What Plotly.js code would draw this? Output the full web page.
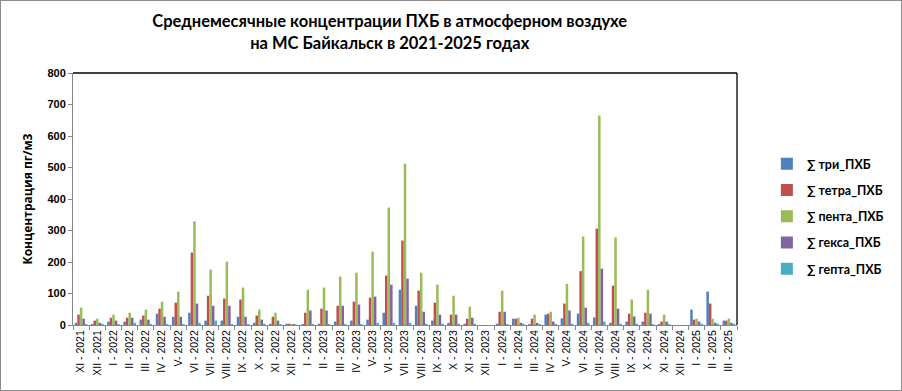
<!DOCTYPE html>
<html>
<head>
<meta charset="utf-8">
<script src="https://cdn.plot.ly/plotly-3.0.1.min.js"></script>
<style>
html,body{margin:0;padding:0;background:#fff;}
#chart{width:900px;height:389px;border:1px solid #8c8c8c;}
</style>
</head>
<body>
<div id="chart"></div>
<script>
const categories = [
  "XI - 2021","XII - 2021","I - 2022","II - 2022","III - 2022","IV - 2022","V- 2022","VI - 2022","VII - 2022","VIII - 2022","IX - 2022","X - 2022","XI - 2022","XII - 2022",
  "I - 2023","II - 2023","III - 2023","IV - 2023","V- 2023","VI - 2023","VII - 2023","VIII - 2023","IX - 2023","X - 2023","XI - 2023","XII - 2023",
  "I - 2024","II - 2024","III - 2024","IV - 2024","V- 2024","VI - 2024","VII - 2024","VIII - 2024","IX - 2024","X - 2024","XI - 2024","XII - 2024",
  "I - 2025","II - 2025","III - 2025"
];
const tri   = [7,3,11,11,17,36,26,39,14,14,26,7,4,4, 3,4,11,14,17,39,112,61,14,7,4,0, 4,20,3,33,21,36,24,7,11,11,3,0, 49,106,14];
const tetra = [33,14,23,23,30,52,71,230,93,84,81,30,26,4, 39,52,61,74,87,157,268,109,71,33,20,0, 42,20,20,36,68,171,306,125,36,39,11,0, 17,68,14];
const penta = [55,20,33,39,49,74,106,329,176,201,119,49,39,3, 112,119,154,166,233,373,512,166,128,93,58,0, 109,23,33,42,131,281,665,278,81,112,33,0, 20,20,20];
const geksa = [20,7,14,23,17,26,26,68,61,61,26,17,14,3, 46,46,61,65,90,128,147,42,33,33,23,0, 42,7,7,11,46,55,179,52,27,36,11,0, 11,7,7];
const gepta = [3,4,3,7,3,3,3,7,14,3,3,4,3,1, 3,3,3,3,7,7,7,4,4,4,4,0, 3,4,3,3,4,7,11,4,4,3,3,0, 4,4,4];

const names = ["∑ три_ПХБ","∑ тетра_ПХБ","∑ пента_ПХБ","∑ гекса_ПХБ","∑ гепта_ПХБ"];
const colors = ["#4F81BD","#C0504D","#9BBB59","#8064A2","#4BACC6"];
const series = [tri, tetra, penta, geksa, gepta];

const traces = series.map((vals, i) => ({
  type: "bar",
  x: categories,
  y: vals,
  name: names[i],
  legendgroup: "g" + i,
  marker: {color: colors[i], line: {width: 0}},
  hoverinfo: "x+y+name"
}));

const layout = {
  width: 900, height: 389,
  margin: {l: 72, r: 121, t: 72, b: 65},
  paper_bgcolor: "#fff", plot_bgcolor: "#fff",
  barmode: "group",
  bargap: 0.22,
  bargroupgap: 0,
  showlegend: true,
  title: {
    text: "<b>Среднемесячные концентрации ПХБ в атмосферном воздухе<br>на МС Байкальск в 2021-2025 годах</b>",
    font: {family: "Lato, 'Open Sans', sans-serif", size: 16.5, color: "#000"},
    x: 0.477, xanchor: "center", xref: "paper", yref: "container", y: 0.933, yanchor: "middle"
  },
  xaxis: {
    type: "category",
    tickangle: -90,
    tickfont: {family: "'Liberation Sans', Arial, sans-serif", size: 10.5, color: "#000"},
    ticks: "outside", ticklen: 4, tickcolor: "#868686", tickson: "boundaries",
    showline: true, linecolor: "#868686", linewidth: 1,
    showgrid: false, zeroline: false,
    range: [-0.5, categories.length - 0.5]
  },
  yaxis: {
    range: [0, 800], dtick: 100,
    tickfont: {family: "'Liberation Sans', Arial, sans-serif", size: 11, color: "#000", weight: "bold"},
    ticks: "outside", ticklen: 4, tickcolor: "#868686",
    showline: true, linecolor: "#868686", linewidth: 1,
    showgrid: false, zeroline: false,
    title: {text: "<b>Концентрация пг/м3</b>", font: {family: "'Open Sans', 'Liberation Sans', sans-serif", size: 12, color: "#000"}, standoff: 12}
  },
  legend: {
    x: 1.045, xanchor: "left", y: 0.43, yanchor: "middle",
    font: {family: "Lato, 'Open Sans', sans-serif", size: 12.5, color: "#000", weight: "bold"},
    tracegroupgap: 7,
    itemwidth: 30,
    bgcolor: "rgba(0,0,0,0)"
  },
  shapes: [
    {type: "line", xref: "paper", yref: "paper", x0: 0, x1: 1, y0: 1, y1: 1, line: {color: "#000", width: 1.3}},
    {type: "line", xref: "paper", yref: "paper", x0: 1, x1: 1, y0: 0, y1: 1, line: {color: "#000", width: 1.3}}
  ]
};

Plotly.newPlot("chart", traces, layout, {displayModeBar: false, staticPlot: true});
</script>
</body>
</html>
